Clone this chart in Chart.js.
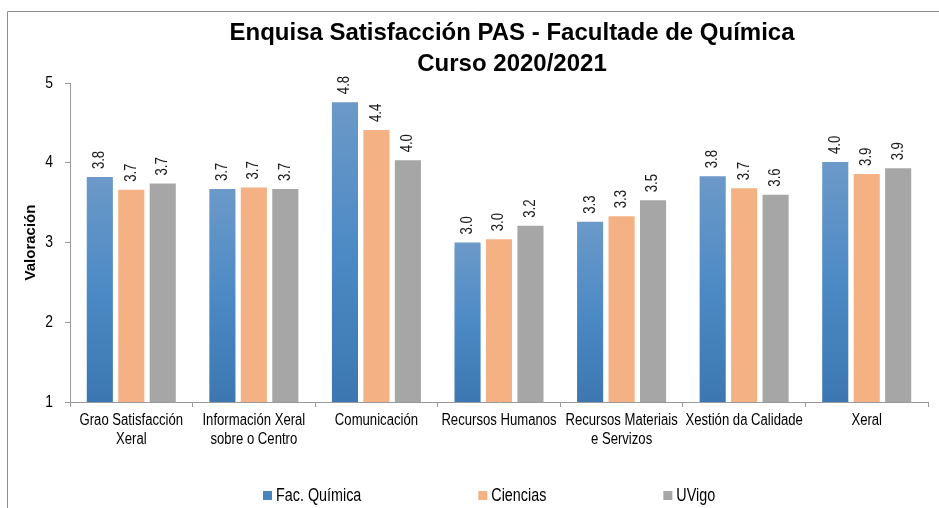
<!DOCTYPE html>
<html>
<head>
<meta charset="utf-8">
<script src="https://cdn.jsdelivr.net/npm/chart.js@4.4.1/dist/chart.umd.min.js"></script>
<style>
  html, body { margin: 0; padding: 0; background: #fff; }
  #wrap { position: relative; width: 939px; height: 508px; }
</style>
</head>
<body>
<div id="wrap"><canvas id="c"></canvas></div>
<script>
const categories = [
  ['Grao Satisfacción', 'Xeral'],
  ['Información Xeral', 'sobre o Centro'],
  'Comunicación',
  'Recursos Humanos',
  ['Recursos Materiais', 'e Servizos'],
  'Xestión da Calidade',
  'Xeral'
];
const seriesNames = ['Fac. Química', 'Ciencias', 'UVigo'];
const facQuimica = [3.82, 3.67, 4.76, 3.00, 3.26, 3.83, 4.01];
const ciencias   = [3.66, 3.69, 4.41, 3.04, 3.33, 3.68, 3.86];
const uvigo      = [3.74, 3.67, 4.03, 3.21, 3.53, 3.60, 3.93];
const yTicks = [1, 2, 3, 4, 5];
const titleLines = ['Enquisa Satisfacción PAS - Facultade de Química', 'Curso 2020/2021'];
const yTitle = 'Valoración';

const SANS = "'Liberation Sans', Arial, sans-serif";
const NARROW_SCALE = 0.82;

// draw text in a horizontally condensed face (emulates Arial Narrow)
function narrowText(c, txt, x, y, align, size, rot) {
  c.save();
  c.font = size + 'px ' + SANS;
  c.textAlign = align;
  c.translate(x, y);
  if (rot) c.rotate(rot);
  c.scale(NARROW_SCALE, 1);
  c.fillText(txt, 0, 0);
  c.restore();
}

function blueGradient(ctx) {
  const chart = ctx.chart;
  const ys = chart.scales && chart.scales.y;
  if (!ys || ctx.parsed === undefined || !chart.chartArea) return '#4f86c0';
  const top = ys.getPixelForValue(ctx.parsed.y);
  const bottom = ys.getPixelForValue(ys.min);
  if (!isFinite(top) || !isFinite(bottom) || bottom <= top) return '#4f86c0';
  const g = chart.ctx.createLinearGradient(0, top, 0, bottom);
  g.addColorStop(0, '#6c99c8');
  g.addColorStop(0.5, '#4c8ac5');
  g.addColorStop(1, '#3c77b1');
  return g;
}

const frameBg = {
  id: 'frameBg',
  beforeDraw(chart) {
    const c = chart.ctx;
    c.save();
    c.fillStyle = '#fff';
    c.fillRect(0, 0, chart.width, chart.height);
    c.strokeStyle = '#8e8e8e';
    c.lineWidth = 1;
    c.beginPath();
    c.moveTo(7.5, chart.height);
    c.lineTo(7.5, 11.5);
    c.lineTo(chart.width, 11.5);
    c.stroke();
    c.restore();
  }
};

const axisLabels = {
  id: 'axisLabels',
  afterDraw(chart) {
    const c = chart.ctx;
    const xs = chart.scales.x, ys = chart.scales.y;
    c.save();
    c.fillStyle = '#000';
    c.textBaseline = 'middle';
    chart.data.labels.forEach((lab, i) => {
      const x = xs.getPixelForTick(i);
      const lines = Array.isArray(lab) ? lab : [lab];
      lines.forEach((ln, k) => narrowText(c, ln, x, 421 + k * 19, 'center', 16));
    });
    yTicks.forEach(v => {
      narrowText(c, String(v), ys.left + ys.width - 17, ys.getPixelForValue(v), 'right', 17);
    });
    c.restore();
  }
};

const titlePlugin = {
  id: 'titlePlugin',
  afterDraw(chart) {
    const c = chart.ctx;
    c.save();
    c.fillStyle = '#000';
    c.font = 'bold 24px ' + SANS;
    c.textAlign = 'center';
    c.textBaseline = 'alphabetic';
    c.fillText(titleLines[0], 512, 40);
    c.fillText(titleLines[1], 512, 71);
    c.restore();
  }
};

const valueLabels = {
  id: 'valueLabels',
  afterDatasetsDraw(chart) {
    const c = chart.ctx;
    c.save();
    c.fillStyle = '#1a1a1a';
    c.textBaseline = 'middle';
    chart.data.datasets.forEach((ds, di) => {
      const meta = chart.getDatasetMeta(di);
      meta.data.forEach((bar, i) => {
        narrowText(c, ds.data[i].toFixed(1), bar.x, bar.y - 8, 'left', 16, -Math.PI / 2);
      });
    });
    c.restore();
  }
};

const legendPlugin = {
  id: 'legendPlugin',
  afterDraw(chart) {
    const c = chart.ctx;
    c.save();
    c.textBaseline = 'middle';
    let x = 263;
    const yMid = 496;
    const swatches = ['#4a84bf', '#f4b183', '#a6a6a6'];
    chart.data.datasets.forEach((ds, i) => {
      c.fillStyle = swatches[i];
      c.fillRect(x, yMid - 5, 9, 9);
      c.fillStyle = '#000';
      narrowText(c, ds.label, x + 13, yMid, 'left', 17.5);
      c.font = '17.5px ' + SANS;
      x += 13 + c.measureText(ds.label).width * NARROW_SCALE + 117;
    });
    c.restore();
  }
};

new Chart(document.getElementById('c'), {
  type: 'bar',
  data: {
    labels: categories,
    datasets: [
      { label: seriesNames[0], data: facQuimica, backgroundColor: blueGradient },
      { label: seriesNames[1], data: ciencias, backgroundColor: '#f4b183' },
      { label: seriesNames[2], data: uvigo, backgroundColor: '#a6a6a6' }
    ]
  },
  options: {
    responsive: true,
    maintainAspectRatio: false,
    animation: false,
    devicePixelRatio: 1,
    layout: { padding: { top: 83, right: 11, bottom: 0, left: 0 } },
    datasets: { bar: { categoryPercentage: 0.77, barPercentage: 0.83 } },
    plugins: {
      legend: { display: false },
      title: { display: false },
      tooltip: { enabled: false }
    },
    scales: {
      x: {
        grid: { offset: true, drawOnChartArea: false, drawTicks: true, tickLength: 5, color: '#9a9a9a' },
        border: { display: true, color: '#9a9a9a' },
        ticks: { display: false, autoSkip: false, maxRotation: 0 },
        afterFit(scale) { scale.height = 106; }
      },
      y: {
        min: 1, max: 5,
        afterBuildTicks(scale) { scale.ticks = yTicks.map(v => ({ value: v })); },
        grid: { drawOnChartArea: false, drawTicks: true, tickLength: 5, color: '#9a9a9a' },
        border: { display: true, color: '#9a9a9a' },
        ticks: { display: false },
        title: {
          display: true, text: yTitle, color: '#000',
          font: { family: SANS, size: 15, weight: 'bold' },
          padding: { top: 22, bottom: 0 }
        },
        afterFit(scale) { scale.width = 70; }
      }
    }
  },
  plugins: [frameBg, valueLabels, axisLabels, titlePlugin, legendPlugin]
});
</script>
</body>
</html>
